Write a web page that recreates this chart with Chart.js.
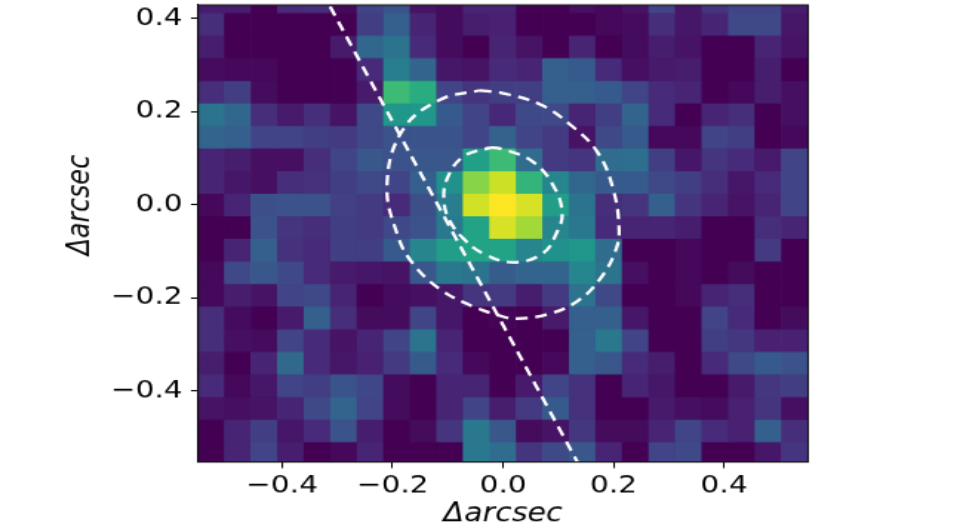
<!DOCTYPE html>
<html>
<head>
<meta charset="utf-8">
<style>
html,body{margin:0;padding:0;background:#fff;overflow:hidden}
canvas{display:block;width:960px!important;height:530px!important}
</style>
<script src="https://cdn.jsdelivr.net/npm/chart.js@4"></script>
</head>
<body>
<canvas id="c" width="810" height="530"></canvas>
<script>
const colCenters=[-0.528,-0.48,-0.432,-0.384,-0.336,-0.288,-0.24,-0.192,-0.144,-0.096,-0.048,0,0.048,0.096,0.144,0.192,0.24,0.288,0.336,0.384,0.432,0.48,0.528];
const rowEdges=[0.4607,0.4122,0.3637,0.3152,0.2667,0.2182,0.1697,0.1212,0.0727,0.0242,-0.0242,-0.0727,-0.1212,-0.1697,-0.2182,-0.2667,-0.3152,-0.3637,-0.4122,-0.4607,-0.5092,-0.5577];
const row00=[.08,.08,0,.12,.13,.02,.2,.25,.05,.03,.1,.1,0,0,.04,.02,.05,.2,.06,.15,.2,.2,.08];
const row01=[.13,0,0,0,0,0,.18,.3,.1,.03,.08,.09,0,0,0,.02,.03,.13,.06,.1,.22,.22,.06];
const row02=[.08,0,0,0,0,.07,.33,.38,.12,.03,0,.1,.05,0,.1,0,.03,.08,.05,0,0,.1,.05];
const row03=[.03,.02,.02,0,0,0,.12,.42,.32,.06,.05,.12,.1,.3,.28,.12,.04,.07,.08,0,0,.08,0];
const row04=[.13,.18,.03,0,0,0,.07,.68,.62,.2,.15,.18,.18,.3,.3,.28,.2,.12,.1,0,.02,.08,.04];
const row05=[.38,.33,.13,.07,.13,.05,.22,.52,.52,.28,.2,.11,.22,.22,.1,.18,.32,.12,0,.1,.13,0,.04];
const row06=[.32,.3,.2,.2,.18,.17,.22,.25,.26,.26,.2,.31,.2,.17,.05,.22,.28,.02,.02,.2,.18,0,.02];
const row07=[.1,.08,.04,.04,.13,.2,.27,.25,.27,.27,.56,.68,.35,.17,.15,.35,.36,.18,.06,.15,.12,.07,.2];
const row08=[.1,.06,.04,.13,.14,.18,.22,.2,.3,.5,.82,.92,.65,.45,.33,.28,.28,.22,.18,.13,.06,.12,.2];
const row09=[.02,.1,.24,.25,.25,.19,.17,.12,.24,.42,.93,1,.94,.55,.38,.13,.15,.3,.15,.1,.05,.1,.2];
const row10=[0,0,.25,.15,.13,.18,.17,.22,.25,.4,.58,.94,.86,.45,.4,.12,.1,.1,.08,0,0,.13,.1];
const row11=[0,.1,.3,.14,.12,.18,.18,.28,.45,.55,.58,.58,.45,.5,.52,.35,0,0,.02,0,0,.17,0];
const row12=[.02,.22,.27,.22,.12,.07,.06,.05,.27,.4,.38,.29,.32,.32,.46,.38,.04,0,.02,0,.03,0,0];
const row13=[.02,.08,.05,.2,.22,.1,0,.03,.04,.06,.15,.17,.08,.17,.38,.22,0,0,.02,.1,.13,0,0];
const row14=[.13,.03,0,.07,.3,.13,.03,.03,.2,.06,0,.01,0,.07,.3,.3,.06,0,0,.2,.12,0,.03];
const row15=[.13,.04,.03,.2,.12,.05,.1,.2,.38,.1,0,0,0,0,.3,.4,.2,0,0,.18,.16,.09,.09];
const row16=[.08,0,.1,.34,.12,.06,.09,.17,.28,.12,.02,0,0,.02,.3,.27,.12,.08,0,.12,.22,.28,.25];
const row17=[.12,.02,.06,.2,.18,.26,.21,.03,0,.1,.1,0,.07,.2,.14,0,.1,.06,0,0,.07,.16,.18];
const row18=[.05,.04,.05,.1,.22,.32,.2,.03,0,.1,.2,.08,.17,.28,.14,0,0,.07,.04,.03,.09,.15,.04];
const row19=[0,.1,.18,.06,.12,.25,.08,0,.03,.15,.4,.27,.03,.05,.16,.03,.03,.1,.2,.12,.09,.3,.13];
const row20=[0,.1,.2,.08,0,.02,.1,0,0,0,.4,.35,.15,.22,.27,.1,0,.2,.22,0,0,.06,.15];
const rows=[row00,row01,row02,row03,row04,row05,row06,row07,row08,row09,row10,row11,row12,row13,row14,row15,row16,row17,row18,row19,row20];
const tickValues=[-0.4,-0.2,0,0.2,0.4];
const outerX=[-.042,-.005,.067,.121,.170,.199,.210,.203,.176,.134,.080,.025,-.002,-.054,-.114,-.163,-.190,-.210,-.181,-.114,-.042];
const outerY=[.245,.240,.215,.172,.114,.034,-.054,-.101,-.159,-.208,-.236,-.245,-.240,-.219,-.182,-.127,-.069,.043,.161,.225,.245];
const innerX=[-.024,-.005,.054,.094,.107,.098,.072,.018,-.036,-.072,-.096,-.107,-.101,-.072,-.024];
const innerY=[.122,.120,.092,.034,-.021,-.058,-.105,-.124,-.105,-.073,-.036,.006,.056,.103,.122];
const slitX=[-.313,.136];
const slitY=[.425,-.556];

const viridis=[[68,1,84],[72,36,117],[65,68,135],[53,95,141],[42,120,142],[33,145,140],[34,168,132],[68,191,112],[122,209,81],[189,223,38],[253,231,37]];
function cmap(v){
  const t=Math.max(0,Math.min(1,v))*10,i=Math.min(9,Math.floor(t)),f=t-i,a=viridis[i],b=viridis[i+1];
  return 'rgb('+a.map((q,k)=>Math.round(q+(b[k]-q)*f)).join(',')+')';
}
const pairs=(xs,ys)=>xs.map((x,i)=>({x,y:ys[i]}));
const curve=(xs,ys,extra)=>Object.assign({type:'scatter',data:pairs(xs,ys),showLine:true,borderColor:'#fff',borderWidth:2.8,borderDash:[10,6.5],pointRadius:0,fill:false,order:0,tension:0.4},extra||{});
const cellSets=rows.map((vals,r)=>({
  type:'bar',order:1,grouped:false,barPercentage:1.04,categoryPercentage:1,borderWidth:0,
  data:vals.map((v,c)=>({x:colCenters[c],y:[rowEdges[r+1]-0.0012,rowEdges[r]+0.0012]})),
  backgroundColor:vals.map(cmap)
}));
const frame={id:'frame',afterDraw(ch){const a=ch.chartArea,g=ch.ctx;g.save();g.strokeStyle='#111';g.lineWidth=1.3;g.strokeRect(a.left,a.top,a.right-a.left,a.bottom-a.top);g.restore();}};
const tickFont={family:'"DejaVu Sans"',size:25};
const titleFont={family:'"DejaVu Sans"',size:25.5,style:'italic'};
const fmt=v=>{const s=Math.abs(v).toFixed(1);return v<-1e-9?'\u2212'+s:s;};
const axis=(min,max,title,titlePad,extra)=>Object.assign({
  type:'linear',min,max,offset:false,
  grid:{display:true,offset:false,drawOnChartArea:false,drawTicks:true,tickLength:6,color:'#000',lineWidth:1.3},
  border:{display:true,color:'#000',width:1.3},
  afterBuildTicks:s=>{s.ticks=tickValues.map(value=>({value}));},
  title:{display:true,text:title,color:'#000',font:titleFont,padding:titlePad}
},extra);
new Chart(document.getElementById('c'),{
  type:'bar',
  data:{datasets:[curve(slitX,slitY,{tension:0}),curve(outerX,outerY),curve(innerX,innerY),...cellSets]},
  options:{
    responsive:false,animation:false,devicePixelRatio:0.8,
    layout:{padding:{left:0,right:128.2,top:5,bottom:0}},
    plugins:{legend:{display:false},tooltip:{enabled:false}},
    scales:{
      x:axis(-0.552,0.552,'\u0394arcsec',{top:0,bottom:0},{
        afterFit:s=>{s.height=68;s.paddingLeft=0;s.paddingRight=0;},
        ticks:{color:'#000',font:tickFont,padding:3,maxRotation:0,autoSkip:false,callback:fmt}
      }),
      y:axis(-0.5528,0.4282,'       \u0394arcsec',{top:53,bottom:0},{
        afterFit:s=>{s.width=167.1;s.paddingTop=0;s.paddingBottom=0;},
        ticks:{color:'#000',font:tickFont,padding:7,autoSkip:false,callback:fmt}
      })
    }
  },
  plugins:[frame]
});
</script>
</body>
</html>
